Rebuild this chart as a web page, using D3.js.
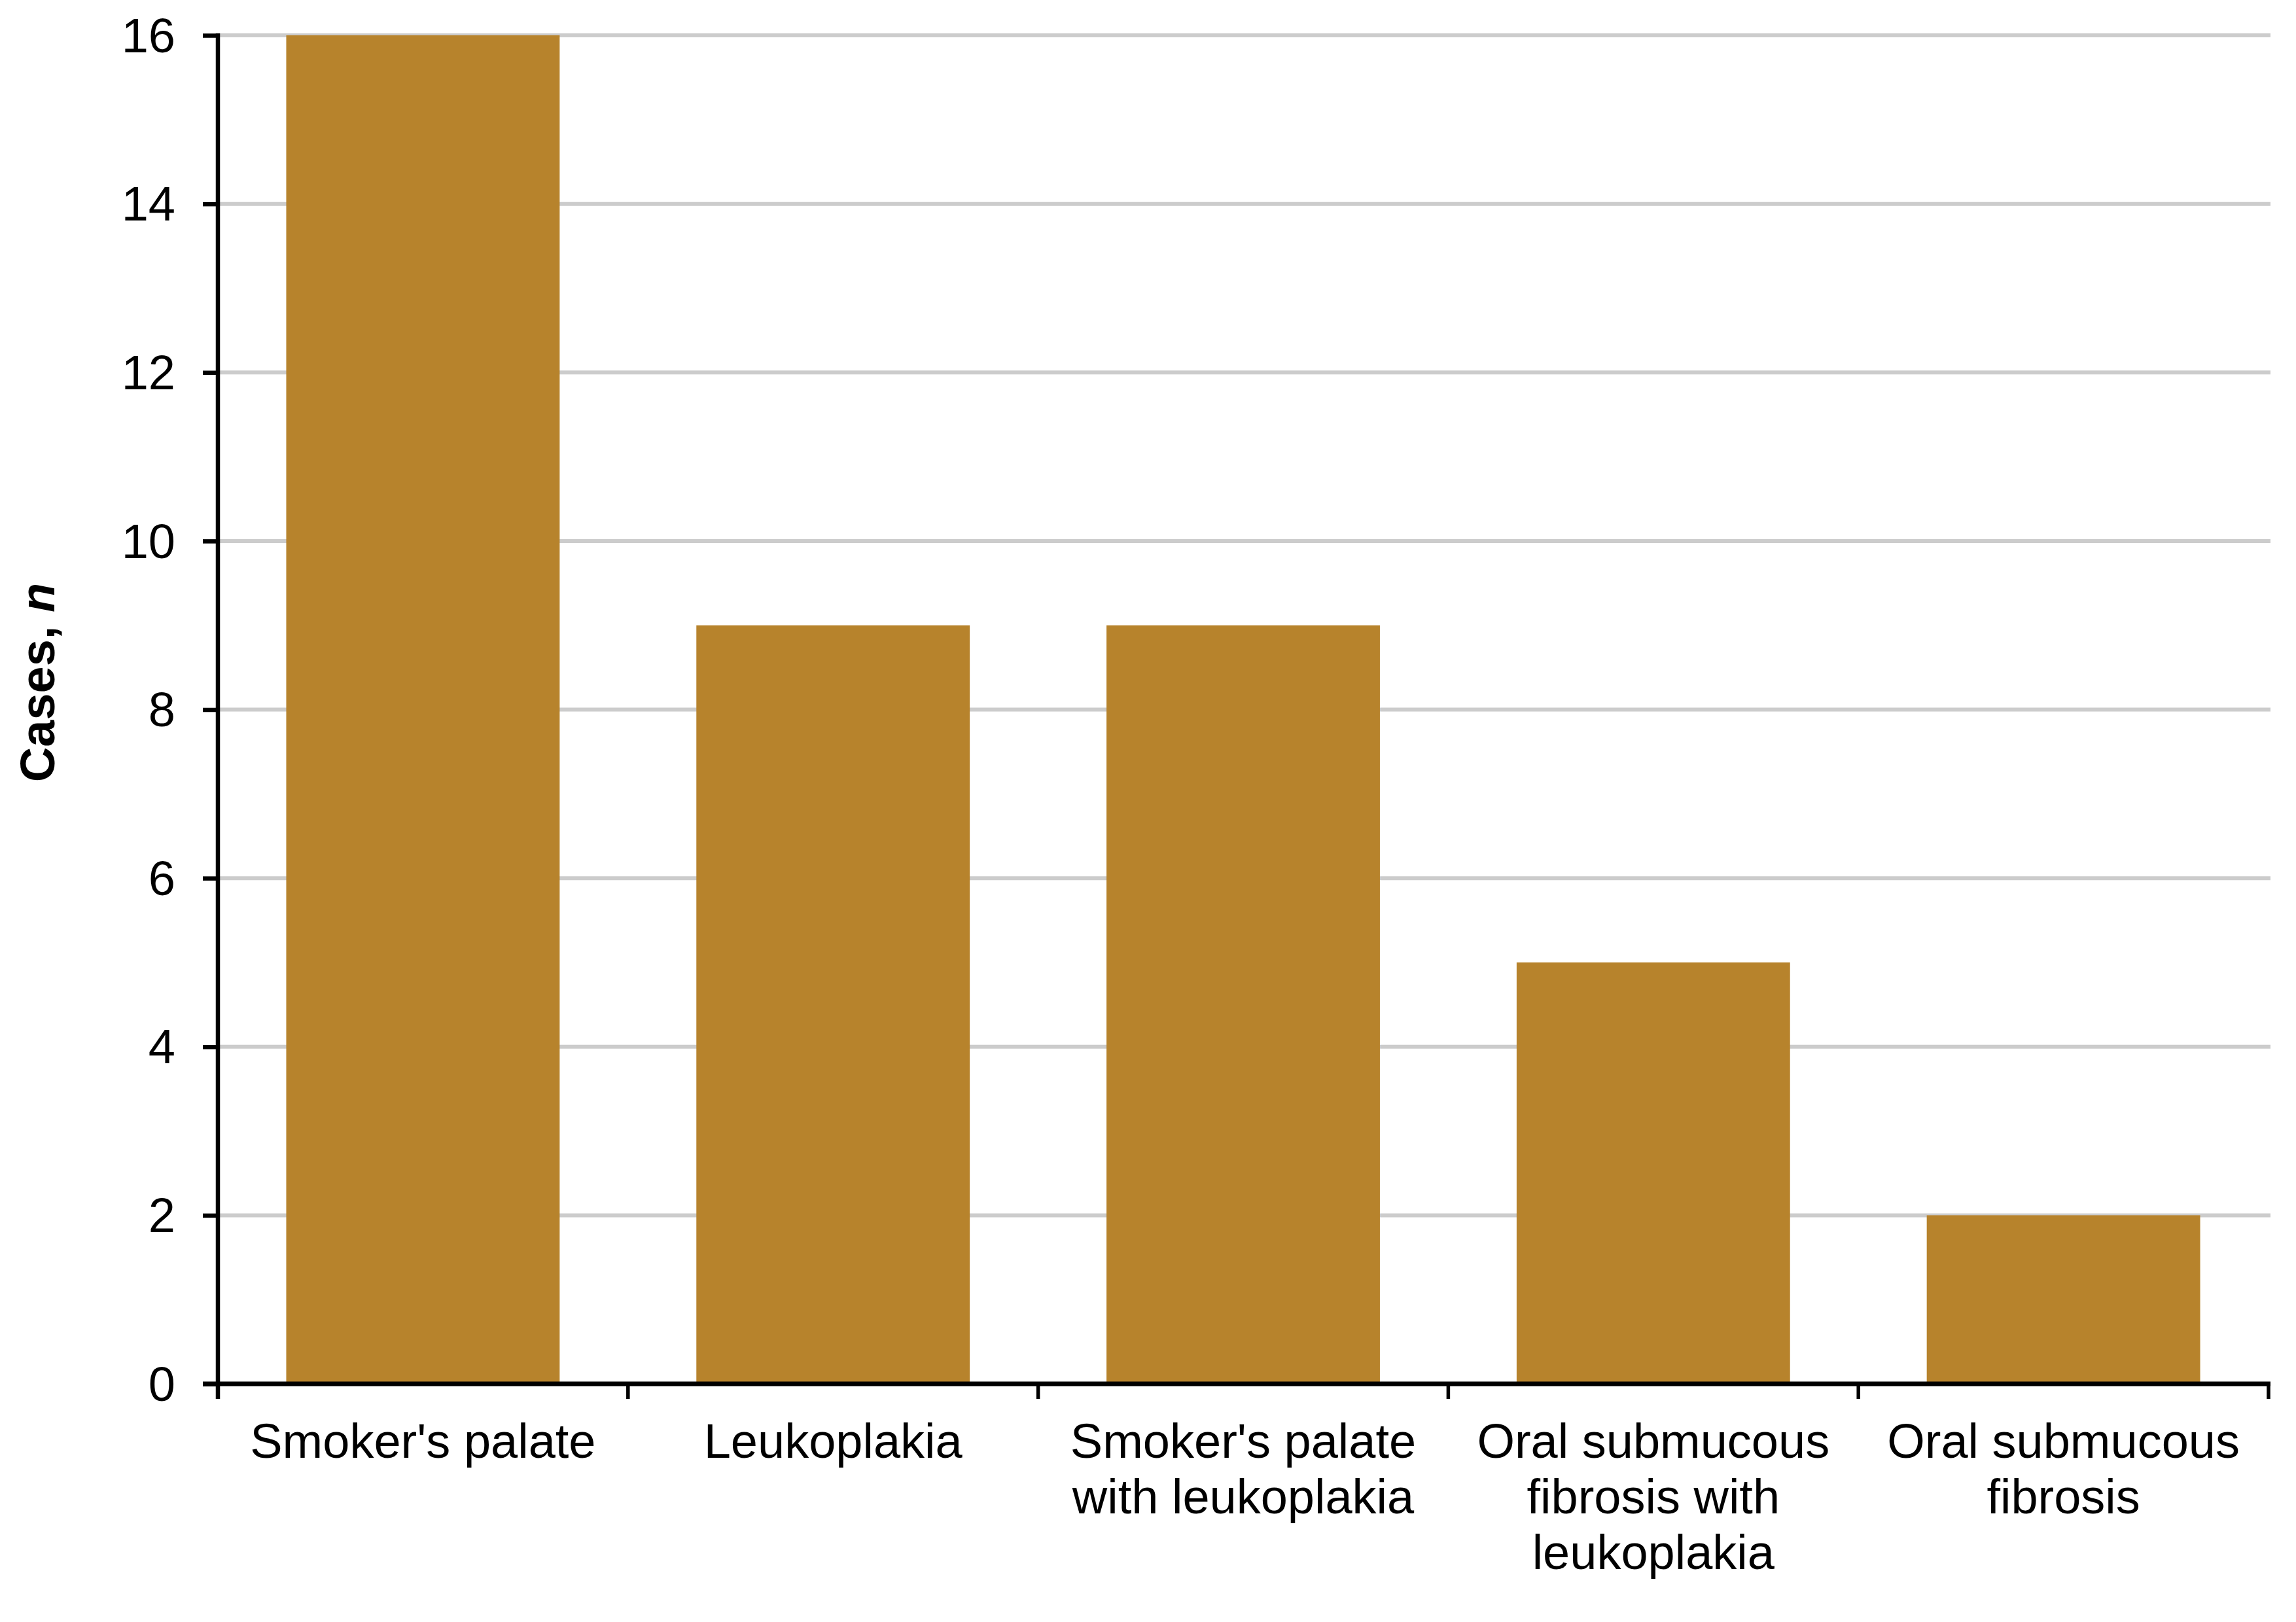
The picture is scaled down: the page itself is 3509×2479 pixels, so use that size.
<!DOCTYPE html>
<html>
<head>
<meta charset="utf-8">
<script src="https://d3js.org/d3.v7.min.js"></script>
<style>
  body { margin: 0; background: #fff; }
  svg { display: block; font-family: "Liberation Sans", Arial, sans-serif; }
</style>
</head>
<body>
<div id="chart"></div>
<script>
var categories = [
    ["Smoker's palate"],
    ["Leukoplakia"],
    ["Smoker's palate", "with leukoplakia"],
    ["Oral submucous", "fibrosis with", "leukoplakia"],
    ["Oral submucous", "fibrosis"]
];
var cases = [16, 9, 9, 5, 2];
var yTicks = [0, 2, 4, 6, 8, 10, 12, 14, 16];

var width = 3509, height = 2479;
var margin = {top: 54, right: 42, bottom: 364, left: 333};
var barColor = '#b7832c';

function drawChart(){
    var svg = d3.select("#chart").append("svg")
        .attr("width", width)
        .attr("height", height);

    svg.append("rect").attr("width", width).attr("height", height).attr("fill", "#fff");

    var g = svg.append("g")
        .attr("transform", "translate(" + margin.left + "," + margin.top + ")");

    var innerW = width - margin.left - margin.right;
    var innerH = height - margin.top - margin.bottom;

    var keys = categories.map(function(d, i){ return i; });

    var x = d3.scaleBand()
        .domain(keys)
        .range([0, innerW])
        .paddingInner(1/3)
        .paddingOuter(1/6);

    var y = d3.scaleLinear()
        .domain([0, 16])
        .range([innerH, 0]);

    // gridlines
    g.append("g")
        .selectAll("line")
        .data(yTicks.filter(function(d){ return d > 0; }))
        .join("line")
        .attr("x1", 0)
        .attr("x2", innerW + 3)
        .attr("y1", function(d){ return y(d); })
        .attr("y2", function(d){ return y(d); })
        .attr("stroke", "#cccccc")
        .attr("stroke-width", 6);

    // bars
    g.append("g")
        .selectAll("rect")
        .data(cases)
        .join("rect")
        .attr("x", function(d, i){ return x(i); })
        .attr("y", function(d){ return y(d); })
        .attr("width", x.bandwidth())
        .attr("height", function(d){ return innerH - y(d); })
        .attr("fill", barColor);

    // y axis
    var yAxis = d3.axisLeft(y)
        .tickValues(yTicks)
        .tickSize(23)
        .tickPadding(42)
        .tickFormat(d3.format("d"));

    var yg = g.append("g").call(yAxis);
    yg.select(".domain").attr("stroke", "#000").attr("stroke-width", 6.5)
        .attr("d", "M0," + (y(16) - 3) + "V" + (innerH + 23));
    yg.selectAll(".tick line").attr("stroke", "#000").attr("stroke-width", 6.5);
    yg.selectAll(".tick text")
        .attr("font-size", 74)
        .attr("fill", "#000")
        .attr("dy", "0.34em");

    // x axis: ticks at band boundaries
    var step = x.step();
    var boundaries = d3.range(categories.length + 1).map(function(i){ return i * step; });

    g.append("line")
        .attr("x1", -23)
        .attr("x2", innerW + 3)
        .attr("y1", innerH)
        .attr("y2", innerH)
        .attr("stroke", "#000")
        .attr("stroke-width", 7);

    g.append("g")
        .selectAll("line")
        .data(boundaries)
        .join("line")
        .attr("x1", function(d){ return d; })
        .attr("x2", function(d){ return d; })
        .attr("y1", innerH)
        .attr("y2", innerH + 23)
        .attr("stroke", "#000")
        .attr("stroke-width", 5.5);

    var labels = g.append("g")
        .selectAll("text")
        .data(categories)
        .join("text")
        .attr("x", function(d, i){ return x(i) + x.bandwidth() / 2; })
        .attr("y", innerH + 113)
        .attr("text-anchor", "middle")
        .attr("font-size", 74)
        .attr("fill", "#000");

    labels.selectAll("tspan")
        .data(function(d){ return d; })
        .join("tspan")
        .attr("x", function(){ return d3.select(this.parentNode).attr("x"); })
        .attr("dy", function(d, i){ return i === 0 ? 0 : 85; })
        .text(function(d){ return d; });

    // axis title
    var title = svg.append("text")
        .attr("transform", "translate(83,1043) rotate(-90)")
        .attr("text-anchor", "middle")
        .attr("font-size", 74)
        .attr("font-weight", "bold")
        .attr("fill", "#000");
    title.append("tspan").text("Cases, ");
    title.append("tspan").attr("font-style", "italic").text("n");
}

drawChart();
</script>
</body>
</html>
